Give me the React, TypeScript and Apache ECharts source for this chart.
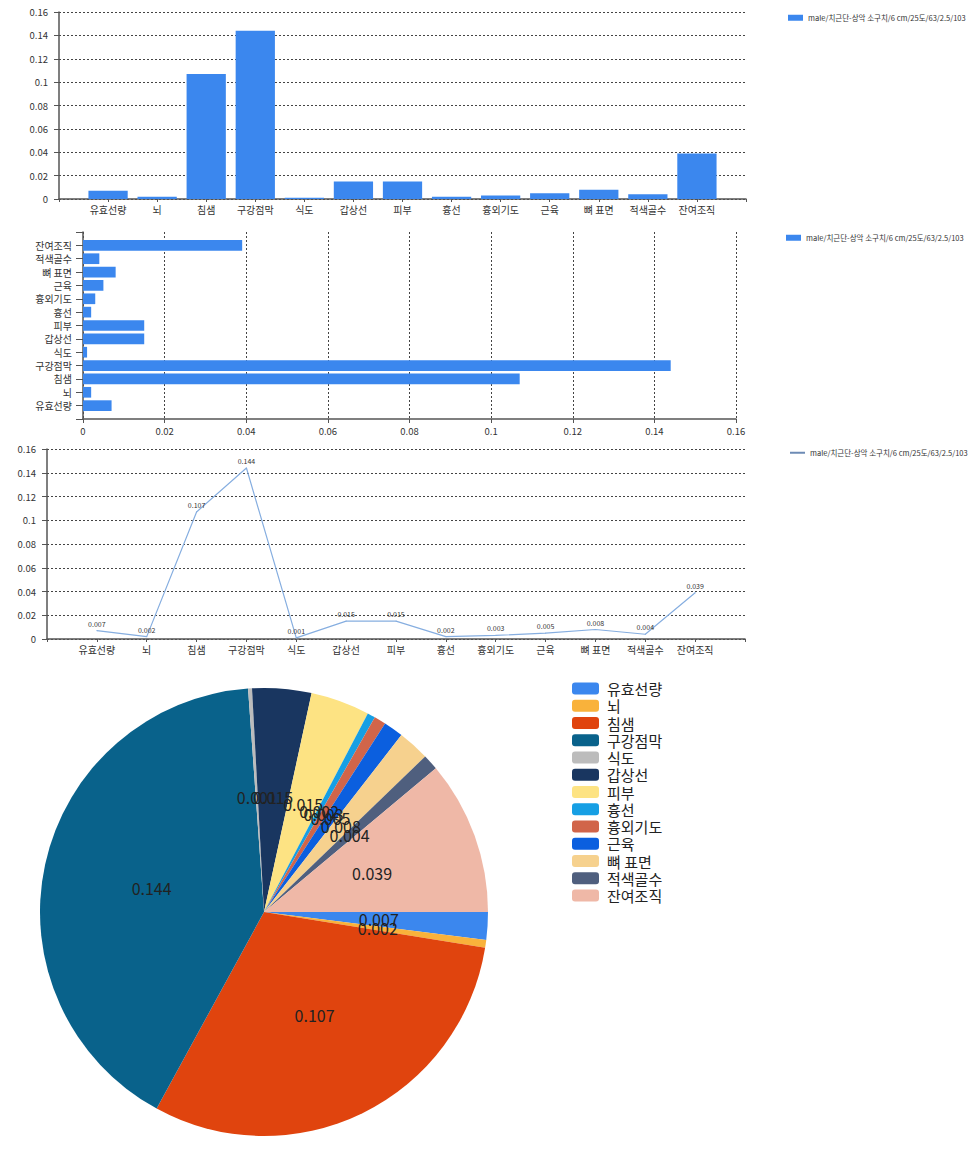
import React, { useEffect, useRef } from "react";
import * as echarts from "echarts";

const CATEGORIES = ["유효선량", "뇌", "침샘", "구강점막", "식도", "갑상선", "피부", "흉선", "흉외기도", "근육", "뼈 표면", "적색골수", "잔여조직"];
const VALUES = [0.007, 0.002, 0.107, 0.144, 0.001, 0.015, 0.015, 0.002, 0.003, 0.005, 0.008, 0.004, 0.039];
const SERIES_NAME = "male/치근단-상악 소구치/6 cm/25도/63/2.5/103";
const PIE_COLORS = ["#3b87ee", "#f9b23b", "#e0440e", "#09628b", "#bcbcbc", "#193660", "#fde383", "#169fe4", "#d1654a", "#0b5fdf", "#f6d18e", "#4f5f7e", "#efb8a7"];
const AXIS_MIN = 0;
const AXIS_MAX = 0.16;
const AXIS_STEP = 0.02;

const FONT = "'Noto Sans CJK KR', 'Noto Sans', sans-serif";
const BAR_COLOR = "#3b87ee";
const LINE_COLOR = "#86aee0";

export default function App() {
  const ref = useRef<HTMLDivElement>(null);
  useEffect(() => {
    if (!ref.current) return;
    const chart = echarts.init(ref.current, undefined, { renderer: "svg" });
    const padCats = ["", ...CATEGORIES, ""];
    const padVals: (number | string)[] = ["-", ...VALUES, "-"];

    const axisLine = { show: true, lineStyle: { color: "#555", width: 1.5 } };
    const split = { show: true, lineStyle: { color: "#444", type: [2, 2] as any, width: 1 } };
    const valAxisLabel = { fontSize: 9.5, color: "#333", fontFamily: FONT, margin: 11 };
    const catAxisLabel = { fontSize: 10, color: "#333", fontFamily: FONT, margin: 5, interval: 0 };
    const legendText = { fontSize: 7.5, color: "#333", fontFamily: FONT };

    const option: any = {
      animation: false,
      textStyle: { fontFamily: FONT },
      grid: [
        { left: 59, top: 12, width: 687, height: 187 },
        { left: 83, top: 232, width: 653, height: 187 },
        { left: 47, top: 449, width: 698, height: 190 },
      ],
      xAxis: [
        {
          gridIndex: 0, type: "category", data: padCats, boundaryGap: false,
          axisLine, axisTick: { show: true, length: 3, interval: 0, lineStyle: { color: "#555" } },
          axisLabel: catAxisLabel, splitLine: { show: false },
        },
        {
          gridIndex: 1, type: "value", min: AXIS_MIN, max: AXIS_MAX, interval: AXIS_STEP,
          axisLine, axisTick: { show: true, length: 4, lineStyle: { color: "#555" } },
          axisLabel: { ...valAxisLabel, margin: 7 }, splitLine: split,
        },
        {
          gridIndex: 2, type: "category", data: padCats, boundaryGap: false,
          axisLine, axisTick: { show: true, length: 3, interval: 0, lineStyle: { color: "#555" } },
          axisLabel: catAxisLabel, splitLine: { show: false },
        },
      ],
      yAxis: [
        {
          gridIndex: 0, type: "value", min: AXIS_MIN, max: AXIS_MAX, interval: AXIS_STEP,
          axisLine, axisTick: { show: true, length: 5, lineStyle: { color: "#555" } },
          axisLabel: valAxisLabel, splitLine: split,
        },
        {
          gridIndex: 1, type: "category", data: padCats, boundaryGap: false,
          axisLine, axisTick: { show: true, length: 7, interval: 0, lineStyle: { color: "#555" } },
          axisLabel: { ...catAxisLabel, margin: 11 }, splitLine: { show: false },
        },
        {
          gridIndex: 2, type: "value", min: AXIS_MIN, max: AXIS_MAX, interval: AXIS_STEP,
          axisLine, axisTick: { show: true, length: 5, lineStyle: { color: "#555" } },
          axisLabel: valAxisLabel, splitLine: split,
        },
      ],
      legend: [
        {
          left: 783, top: 9, itemWidth: 15, itemHeight: 6, itemGap: 4,
          textStyle: legendText,
          data: [{ name: SERIES_NAME, icon: "rect", itemStyle: { color: BAR_COLOR } }],
          selectedMode: false,
        },
        {
          left: 781, top: 229, itemWidth: 15, itemHeight: 6, itemGap: 4,
          textStyle: legendText,
          data: [{ name: SERIES_NAME, icon: "rect", itemStyle: { color: BAR_COLOR } }],
          selectedMode: false,
        },
        {
          left: 785, top: 444, itemWidth: 15, itemHeight: 2, itemGap: 4,
          textStyle: legendText,
          data: [{ name: SERIES_NAME, icon: "rect", itemStyle: { color: "#6d8bb5" } }],
          selectedMode: false,
        },
        {
          left: 567, top: 676, orient: "vertical", itemWidth: 27, itemHeight: 12, itemGap: 2.25,
          textStyle: { fontSize: 15, lineHeight: 15, color: "#222", fontFamily: FONT, padding: [0, 0, 0, 3] },
          data: CATEGORIES,
          selectedMode: false,
        },
      ],
      series: [
        {
          name: SERIES_NAME, type: "bar", xAxisIndex: 0, yAxisIndex: 0,
          data: padVals, barWidth: "80%", itemStyle: { color: BAR_COLOR },
        },
        {
          name: SERIES_NAME, type: "bar", xAxisIndex: 1, yAxisIndex: 1,
          data: padVals, barWidth: "80%", itemStyle: { color: BAR_COLOR },
        },
        {
          name: SERIES_NAME, type: "line", xAxisIndex: 2, yAxisIndex: 2,
          data: padVals, showSymbol: true, symbol: "circle", symbolSize: 1,
          lineStyle: { color: LINE_COLOR, width: 1.2 }, itemStyle: { color: LINE_COLOR },
          label: { show: true, position: "top", fontSize: 7, color: "#333", fontFamily: FONT, distance: 3 },
          labelLayout: { hideOverlap: false },
        },
        {
          name: "pie", type: "pie", center: [264, 912], radius: 224,
          startAngle: 0, clockwise: true, avoidLabelOverlap: false,
          data: CATEGORIES.map((c, i) => ({ name: c, value: VALUES[i], itemStyle: { color: PIE_COLORS[i] } })),
          label: { show: true, position: "inside", formatter: "{c}", fontSize: 16, color: "#222", fontFamily: FONT },
          labelLine: { show: false },
          labelLayout: { hideOverlap: false },
          emphasis: { disabled: true },
        },
      ],
    };
    chart.setOption(option);
    return () => chart.dispose();
  }, []);
  return <div ref={ref} style={{ position: "absolute", left: 0, top: 0, width: 971, height: 1158 }} />;
}
